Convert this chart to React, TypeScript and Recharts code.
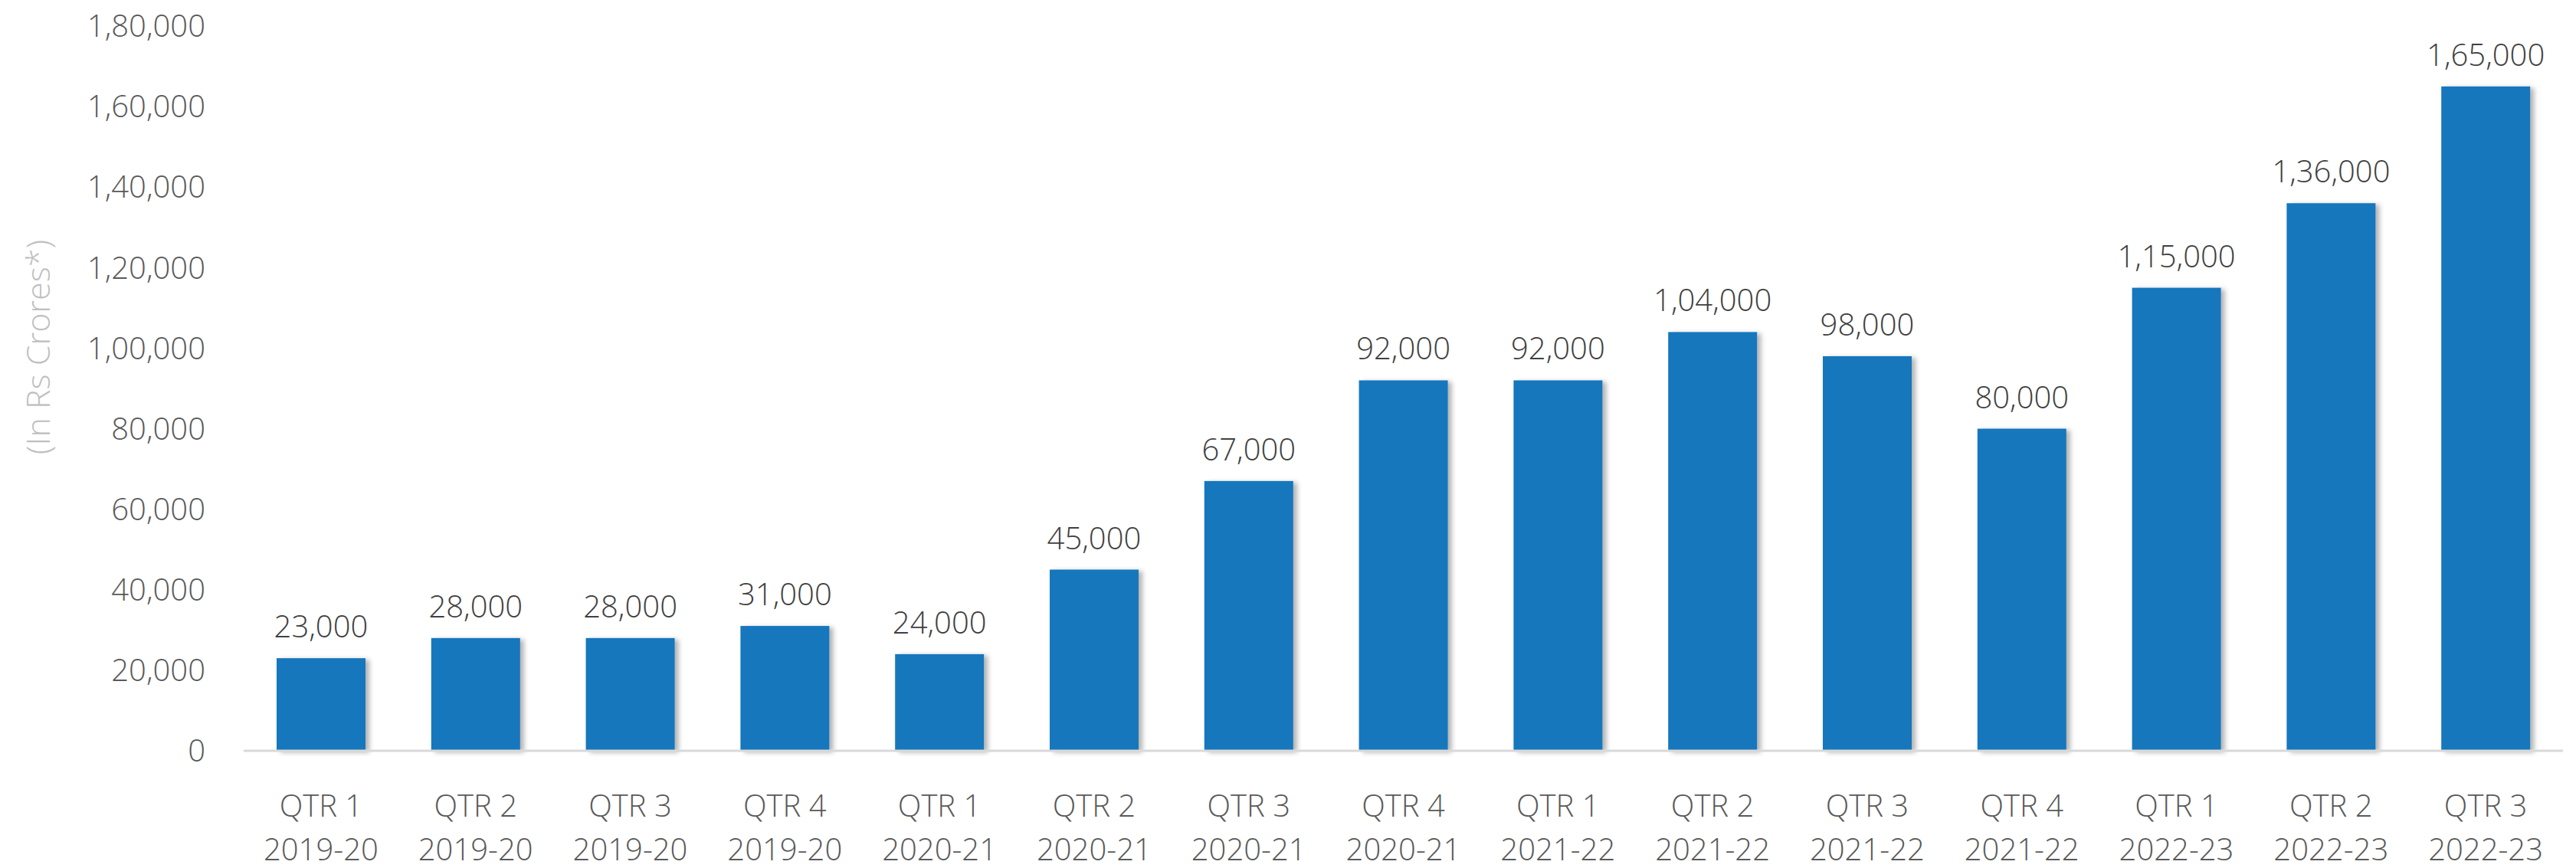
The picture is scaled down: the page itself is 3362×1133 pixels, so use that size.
import React from 'react';
import { BarChart, Bar, XAxis, YAxis, LabelList } from 'recharts';

const quarters = ['QTR 1', 'QTR 2', 'QTR 3', 'QTR 4', 'QTR 1', 'QTR 2', 'QTR 3', 'QTR 4', 'QTR 1', 'QTR 2', 'QTR 3', 'QTR 4', 'QTR 1', 'QTR 2', 'QTR 3'];
const years = ['2019-20', '2019-20', '2019-20', '2019-20', '2020-21', '2020-21', '2020-21', '2020-21', '2021-22', '2021-22', '2021-22', '2021-22', '2022-23', '2022-23', '2022-23'];
const values = [23000, 28000, 28000, 31000, 24000, 45000, 67000, 92000, 92000, 104000, 98000, 80000, 115000, 136000, 165000];
const yTicks = [0, 20000, 40000, 60000, 80000, 100000, 120000, 140000, 160000, 180000];
const yAxisTitle = '(In Rs Crores*)';

const data = values.map((v, i) => ({ name: `${quarters[i]}|${years[i]}`, value: v }));

const FONT = '"Open Sans", "Noto Sans", sans-serif';

function fmtIN(n: number): string {
  const s = String(Math.round(n));
  if (s.length <= 3) return s;
  const last3 = s.slice(-3);
  const rest = s.slice(0, -3).replace(/\B(?=(\d{2})+(?!\d))/g, ',');
  return rest + ',' + last3;
}

const XTick = (props: any) => {
  const { x, y, payload } = props;
  const [q, yr] = String(payload.value).split('|');
  return (
    <g>
      <text x={x} y={y + 70} textAnchor="middle" dominantBaseline="central" fill="#595959" fontSize={40} fontFamily={FONT} fontWeight={300}>{q}</text>
      <text x={x} y={y + 127} textAnchor="middle" dominantBaseline="central" fill="#595959" fontSize={40} fontFamily={FONT} fontWeight={300}>{yr}</text>
    </g>
  );
};

const ShadowBar = (props: any) => {
  const { x, y, width, height, fill } = props;
  if (!height || height <= 0) return null;
  return (
    <g>
      <defs>
        <filter id="barShadow" x="-20%" y="-5%" width="140%" height="110%">
          <feDropShadow dx="5" dy="2" stdDeviation="3" floodColor="#000" floodOpacity="0.3" />
        </filter>
      </defs>
      <rect x={x} y={y} width={width} height={height} fill={fill} filter="url(#barShadow)" />
    </g>
  );
};

const YTitle = (props: any) => {
  const vb = props.viewBox || { x: 0, y: 0 };
  const cx = vb.x + 48;
  const cy = vb.y + 419;
  return (
    <text x={cx} y={cy} transform={`rotate(-90, ${cx}, ${cy})`} textAnchor="middle" dominantBaseline="central" fill="#bfbfbf" fontSize={43} fontFamily={FONT} fontWeight={300}>
      {yAxisTitle}
    </text>
  );
};

export default function App() {
  return (
    <div style={{ position: 'absolute', left: 0, top: 0, width: 3362, height: 1133, background: '#fff' }}>
      <BarChart width={3362} height={1133} data={data} margin={{ top: 34, right: 17, left: 0, bottom: 0 }} barSize={116}>
        <XAxis
          dataKey="name"
          height={153}
          tickLine={false}
          tickSize={0}
          tickMargin={0}
          axisLine={{ stroke: '#d9d9d9', strokeWidth: 3 }}
          tick={<XTick />}
          interval={0}
        />
        <YAxis
          width={318}
          domain={[0, 180000]}
          ticks={yTicks}
          tickFormatter={fmtIN}
          axisLine={false}
          tickLine={false}
          tickSize={0}
          tickMargin={50}
          tick={{ fill: '#595959', fontSize: 40, fontFamily: FONT, fontWeight: 300 }}
          label={<YTitle />}
        />
        <Bar dataKey="value" fill="#1677bd" isAnimationActive={false} shape={<ShadowBar />}>
          <LabelList dataKey="value" position="top" offset={27} formatter={(v: any) => fmtIN(Number(v))} fill="#404040" fontSize={40} fontFamily={FONT} fontWeight={300} />
        </Bar>
      </BarChart>
    </div>
  );
}
